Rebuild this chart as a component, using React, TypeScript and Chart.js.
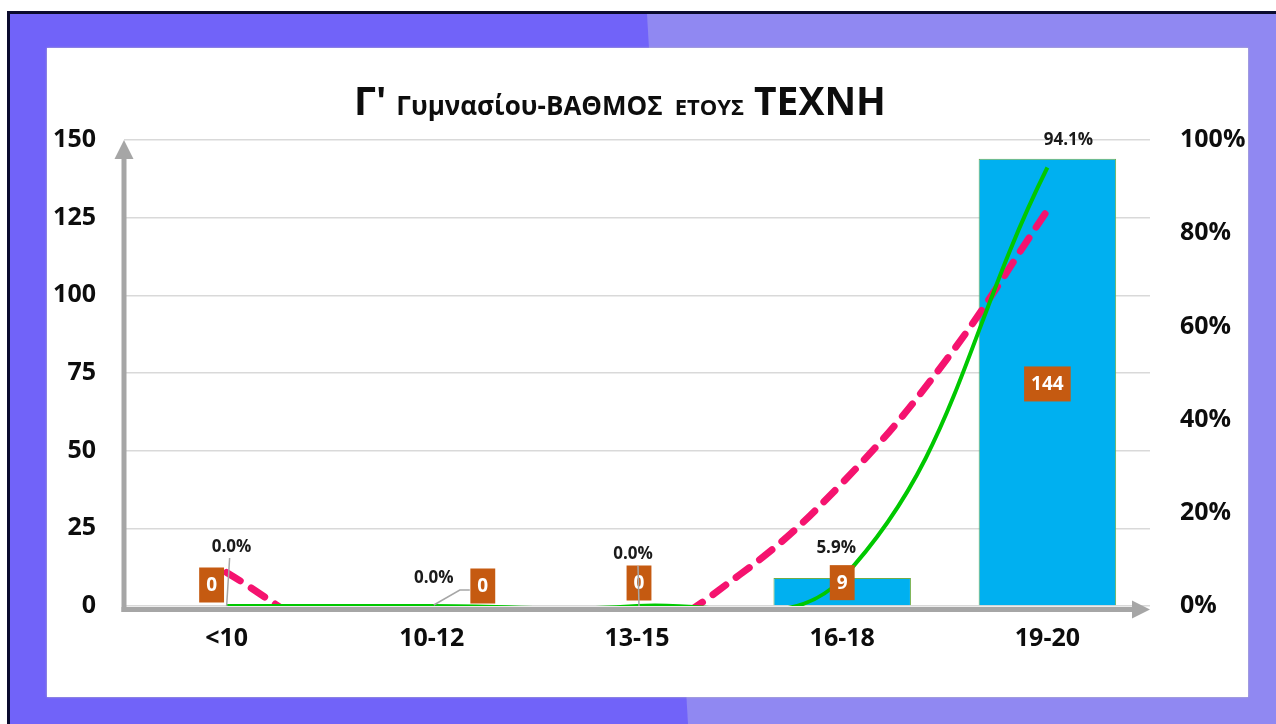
import React, { useEffect, useRef } from "react";
import { Chart, registerables } from "chart.js";

Chart.register(...registerables);

const categories = ["<10", "10-12", "13-15", "16-18", "19-20"];
const counts = [0, 0, 0, 9, 144];
const percents = [0.0, 0.0, 0.0, 5.9, 94.1];
// dashed trend line (x = category index, y = percent)
const trendX = [0, 0.5, 1, 2, 2.5, 3, 3.5, 4];
const trendY = [7.2, -6.0, -12.4, -6.0, 6.7, 26.4, 52.4, 84.9];
const leftMax = 150;
const leftStep = 25;
const rightMax = 100;
const rightStep = 20;
const titleParts = ["Γ'", "Γυμνασίου-ΒΑΘΜΟΣ", "ΕΤΟΥΣ", "ΤΕΧΝΗ"];

const FONT = "'Open Sans', 'Noto Sans', sans-serif";

// label placement offsets (pixels)
const barLabelOffsets = [
  [-15, -21],
  [51, -20],
  [2, -23],
  [0, -9],
  [0, 2],
];
const pctLabelOffsets = [
  [5, -59],
  [2, -28],
  [-4, -52],
  [-6, -30],
  [21, -27],
];

const axesPlugin = {
  id: "arrowAxes",
  beforeDatasetsDraw(chart: any) {
    const { ctx, chartArea } = chart;
    const { left, right, top, bottom } = chartArea;
    ctx.save();
    ctx.fillStyle = "#A6A6A6";
    // y axis shaft
    ctx.fillRect(left - 2.5, top + 14, 5, bottom - top - 14 + 6);
    // y arrow head
    ctx.beginPath();
    ctx.moveTo(left, top);
    ctx.lineTo(left - 9.5, top + 19);
    ctx.lineTo(left + 9.5, top + 19);
    ctx.closePath();
    ctx.fill();
    // x axis shaft
    ctx.fillRect(left - 2.5, bottom + 1, right - left - 14, 5);
    // x arrow head
    ctx.beginPath();
    ctx.moveTo(right, bottom + 3.5);
    ctx.lineTo(right - 18, bottom + 3.5 - 9);
    ctx.lineTo(right - 18, bottom + 3.5 + 9);
    ctx.closePath();
    ctx.fill();
    ctx.restore();
  },
};

const labelsPlugin = {
  id: "customLabels",
  afterDatasetsDraw(chart: any) {
    const { ctx } = chart;
    const bars = chart.getDatasetMeta(2).data;
    const pts = chart.getDatasetMeta(0).data;
    ctx.save();

    ctx.strokeStyle = "#A6A6A6";
    ctx.lineWidth = 1.5;
    const leader = (x1: number, y1: number, x2: number, y2: number, x3?: number, y3?: number) => {
      ctx.beginPath();
      ctx.moveTo(x1, y1);
      ctx.lineTo(x2, y2);
      if (x3 !== undefined && y3 !== undefined) ctx.lineTo(x3, y3);
      ctx.stroke();
    };
    // <10 percent label leader
    leader(pts[0].x, pts[0].y, pts[0].x + 3, pts[0].y + pctLabelOffsets[0][1] + 11);
    // 10-12 bar label leader
    {
      const b = bars[1];
      const bx = b.x + barLabelOffsets[1][0] - 13;
      const by = (b.y + b.base) / 2 + barLabelOffsets[1][1] + 4;
      leader(b.x + 2, b.base - 1, bx - 10, by, bx, by);
    }

    // bar value boxes
    ctx.font = `bold 19px ${FONT}`;
    ctx.textAlign = "center";
    ctx.textBaseline = "middle";
    bars.forEach((b: any, i: number) => {
      const cx = b.x + barLabelOffsets[i][0];
      const cy = (b.y + b.base) / 2 + barLabelOffsets[i][1];
      const text = String(counts[i]);
      const w = ctx.measureText(text).width + 14;
      const h = 35;
      ctx.fillStyle = "#C55A11";
      ctx.fillRect(cx - w / 2, cy - h / 2, w, h);
      ctx.fillStyle = "#FFFFFF";
      ctx.fillText(text, cx, cy + 1);
    });

    // 13-15 leader drawn through its box
    leader(pts[2].x + 2, pts[2].y, pts[2].x + 1, pts[2].y + pctLabelOffsets[2][1] + 12);

    // percent labels
    ctx.font = `bold 17px ${FONT}`;
    ctx.fillStyle = "#1A1A1A";
    pts.forEach((p: any, i: number) => {
      const text = percents[i].toFixed(1) + "%";
      ctx.fillText(text, p.x + pctLabelOffsets[i][0], p.y + pctLabelOffsets[i][1]);
    });

    ctx.restore();
  },
};

const titlePlugin = {
  id: "richTitle",
  afterDraw(chart: any) {
    const { ctx } = chart;
    const fonts = [
      `bold 39px ${FONT}`,
      `bold 26px ${FONT}`,
      `bold 22px ${FONT}`,
      `bold 39px ${FONT}`,
    ];
    const gaps = [10, 12, 10, 0];
    ctx.save();
    let total = 0;
    const widths = titleParts.map((t, i) => {
      ctx.font = fonts[i];
      const w = ctx.measureText(t).width;
      total += w + gaps[i];
      return w;
    });
    const centerX = 573;
    const baseline = 67;
    let x = centerX - total / 2;
    ctx.textBaseline = "alphabetic";
    ctx.textAlign = "left";
    ctx.fillStyle = "#0D0D0D";
    titleParts.forEach((t, i) => {
      ctx.font = fonts[i];
      ctx.fillText(t, x, baseline);
      x += widths[i] + gaps[i];
    });
    ctx.restore();
  },
};

export default function App() {
  const canvasRef = useRef<HTMLCanvasElement | null>(null);

  useEffect(() => {
    document.body.style.margin = "0";
    const canvas = canvasRef.current;
    if (!canvas) return;
    const chart = new Chart(canvas, {
      type: "bar",
      data: {
        labels: categories,
        datasets: [
          {
            type: "line",
            label: "percent",
            data: percents,
            yAxisID: "y1",
            xAxisID: "x",
            borderColor: "#00C800",
            borderWidth: 4,
            pointRadius: 0,
            tension: 0.4,
            capBezierPoints: false,
            fill: false,
            order: 0,
          } as any,
          {
            type: "line",
            label: "trend",
            data: trendX.map((x, i) => ({ x, y: trendY[i] })),
            yAxisID: "y1",
            xAxisID: "x2",
            borderColor: "#F5136F",
            borderWidth: 7,
            borderDash: [16, 13],
            borderCapStyle: "round",
            pointRadius: 0,
            tension: 0.4,
            capBezierPoints: false,
            fill: false,
            clip: 0,
            order: 1,
          } as any,
          {
            type: "bar",
            label: "count",
            data: counts,
            yAxisID: "y",
            xAxisID: "x",
            backgroundColor: "#00B0F0",
            borderColor: "#70AD47",
            borderWidth: 1,
            grouped: false,
            barPercentage: 0.67,
            categoryPercentage: 1,
            order: 2,
          } as any,
        ],
      },
      options: {
        animation: false,
        responsive: false,
        maintainAspectRatio: false,
        layout: { padding: { top: 92, left: 0, right: 0, bottom: 0 } },
        plugins: {
          legend: { display: false },
          tooltip: { enabled: false },
          title: { display: false },
        },
        scales: {
          x: {
            type: "category",
            offset: true,
            grid: { display: false, drawTicks: false },
            border: { display: false },
            ticks: {
              color: "#0D0D0D",
              font: { family: FONT, size: 25, weight: "bold" },
              padding: 18,
            },
            afterFit: (s: any) => {
              s.height = 91;
            },
          },
          x2: {
            type: "linear",
            display: false,
            offset: false,
            min: -0.5,
            max: 4.5,
          },
          y: {
            type: "linear",
            position: "left",
            min: 0,
            max: leftMax,
            grid: {
              color: "#D9D9D9",
              lineWidth: 1.5,
              drawTicks: false,
            },
            border: { display: false },
            ticks: {
              stepSize: leftStep,
              color: "#0D0D0D",
              font: { family: FONT, size: 25, weight: "bold" },
              padding: 28,
            },
            afterFit: (s: any) => {
              s.width = 77;
            },
          },
          y1: {
            type: "linear",
            position: "right",
            min: 0,
            max: rightMax,
            grid: { display: false, drawTicks: false },
            border: { display: false },
            ticks: {
              stepSize: rightStep,
              color: "#0D0D0D",
              font: { family: FONT, size: 25, weight: "bold" },
              padding: 30,
              callback: (v: any) => `${v}%`,
            },
            afterFit: (s: any) => {
              s.width = 98;
            },
          },
        },
      },
      plugins: [axesPlugin, labelsPlugin, titlePlugin],
    });
    return () => chart.destroy();
  }, []);

  return (
    <div
      style={{
        position: "relative",
        width: 1276,
        height: 724,
        background: "#FFFFFF",
        overflow: "hidden",
      }}
    >
      <div
        style={{
          position: "absolute",
          left: 7,
          top: 11,
          right: 0,
          bottom: 0,
          background: "#7163F9",
          borderTop: "3px solid #0B0B2E",
          borderLeft: "3px solid #0B0B2E",
        }}
      />
      <div
        style={{
          position: "absolute",
          left: 0,
          top: 14,
          width: 1276,
          height: 710,
          background: "#9088F2",
          clipPath: "polygon(647px 0, 1276px 0, 1276px 710px, 688px 710px)",
        }}
      />
      <div
        style={{
          position: "absolute",
          left: 47,
          top: 48,
          width: 1201,
          height: 649,
          background: "#FFFFFF",
          boxShadow: "0 0 2px rgba(200,200,180,0.9)",
        }}
      >
        <canvas
          ref={canvasRef}
          width={1201}
          height={649}
          style={{ display: "block", width: 1201, height: 649 }}
        />
      </div>
    </div>
  );
}
